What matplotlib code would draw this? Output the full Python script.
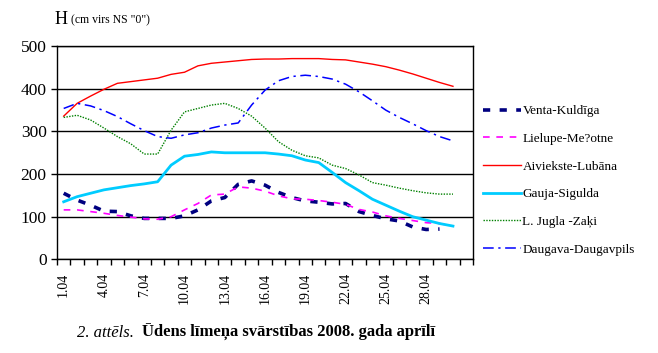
import numpy as np
import matplotlib.pyplot as plt

plt.rcParams['font.family'] = ['Liberation Serif', 'DejaVu Serif']

# dienas aprilī (31. pozīcija tukša kā oriģinālā)
dienas = [f"{d}.04" for d in range(1, 31)] + [""]

venta = [155, 139, 127, 113, 112, 102, 96, 96, 96, 102,
         116, 137, 145, 176, 184, 174, 157, 145, 137, 134,
         130, 131, 112, 103, 95, 90, 76, 70, 71, np.nan]
lielupe = [116, 116, 112, 108, 103, 99, 95, 94, 100, 116,
           131, 151, 153, 170, 167, 160, 149, 142, 141, 138,
           134, 129, 117, 111, 102, 96, 91, 86, 84, 78]
aiviekste = [336, 366, 383, 399, 413, 417, 421, 425, 434, 439,
             454, 460, 463, 466, 469, 470, 470, 471, 471, 471,
             469, 468, 463, 458, 452, 444, 435, 425, 415, 406]
gauja = [135, 147, 155, 163, 168, 173, 177, 182, 221, 242,
         246, 252, 250, 250, 250, 250, 247, 243, 233, 227,
         204, 180, 161, 141, 127, 113, 100, 92, 84, 78]
jugla = [333, 338, 327, 308, 288, 271, 247, 247, 303, 346,
         354, 362, 366, 354, 336, 308, 276, 256, 243, 238,
         221, 213, 198, 180, 174, 167, 161, 156, 153, 153]
daugava = [354, 366, 360, 349, 335, 318, 302, 288, 284, 292,
           297, 308, 315, 320, 362, 397, 419, 429, 432, 429,
           423, 411, 393, 372, 350, 333, 318, 302, 288, 278]

x = np.arange(30)

fig = plt.figure(figsize=(6.58, 3.53), dpi=100)
ax = fig.add_axes([0.0866, 0.2654, 0.6324, 0.6036])

ax.plot(x, venta, color='#000080', lw=2.6, ls=(0, (2, 2.6)), label='Venta-Kuldīga')
ax.plot(x, lielupe, color='#FF00FF', lw=1.2, ls=(0, (4, 4)), label='Lielupe-Me?otne')
ax.plot(x, aiviekste, color='#FF0000', lw=1.0, label='Aiviekste-Lubāna')
ax.plot(x, gauja, color='#00CCFF', lw=2.0, label='Gauja-Sigulda')
ax.plot(x, jugla, color='#008000', lw=1.0, ls=(0, (1, 1)), label='L. Jugla -Zaķi')
ax.plot(x, daugava, color='#0000FF', lw=1.1, ls=(0, (7, 3, 1.5, 3)), label='Daugava-Daugavpils')

ax.set_xlim(-0.5, 30.5)
ax.set_ylim(0, 500)
ax.set_yticks(range(0, 501, 100))
ax.yaxis.grid(True, color='black', lw=1)
ax.set_axisbelow(True)

ax.set_xticks(np.arange(-0.5, 31, 1), minor=True)
ax.set_xticks(x[::3])
ax.set_xticklabels(dienas[0:30:3], rotation=90, fontsize=10)
ax.tick_params(axis='x', which='major', length=0, pad=10)
ax.tick_params(axis='x', which='minor', length=4, direction='out', width=1)
ax.tick_params(axis='y', length=4, direction='out', width=1, labelsize=12.5)
for s in ax.spines.values():
    s.set_color('black')
    s.set_linewidth(1)

ax.legend(loc='center left', bbox_to_anchor=(0.995, 0.37), frameon=False,
          fontsize=9.5, handlelength=2.9, handletextpad=0.1, labelspacing=1.17)

fig.text(0.0836, 0.932, 'H', fontsize=13)
fig.text(0.108, 0.935, '(cm virs NS "0")', fontsize=8.5)

fig.text(0.117, 0.045, '2. attēls.', fontsize=12, style='italic')
fig.text(0.216, 0.045, 'Ūdens līmeņa svārstības 2008. gada aprīlī', fontsize=12, weight='bold')

fig.savefig('out.png', dpi=100)
